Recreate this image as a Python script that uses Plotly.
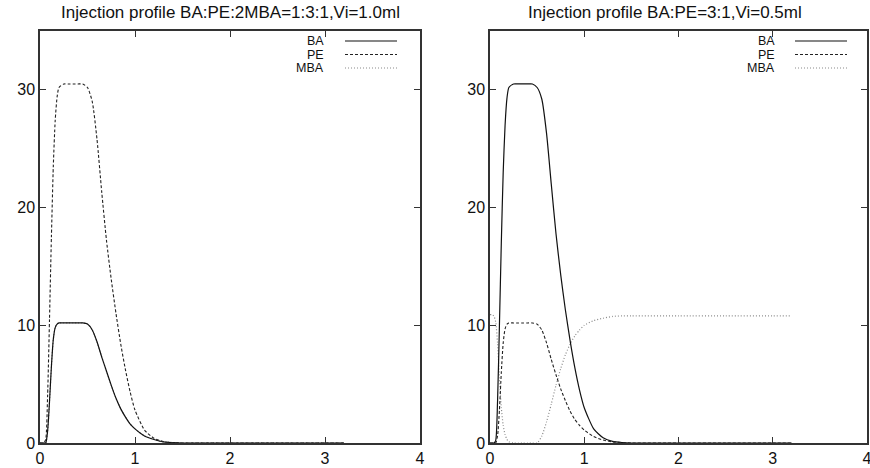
import plotly.graph_objects as go

# time grid (same for both panels)
x = [0, 0.02, 0.04, 0.06, 0.08, 0.1, 0.12, 0.14, 0.16, 0.18, 0.2, 0.25, 0.3, 0.35,
     0.4, 0.45, 0.5, 0.55, 0.6, 0.65, 0.7, 0.75, 0.8, 0.85, 0.9, 0.95, 1.0, 1.1,
     1.2, 1.3, 1.4, 1.5, 2.0, 2.5, 3.0, 3.2]

# left panel: BA:PE:2MBA = 1:3:1, Vi = 1.0 ml
left_ba = [0, 0, 0, 0, 1.0, 3.5, 6.5, 8.8, 9.8, 10.1, 10.2, 10.2, 10.2, 10.2,
           10.2, 10.2, 10.1, 9.6, 8.6, 7.3, 6.1, 4.9, 3.8, 2.9, 2.2, 1.6, 1.2, 0.6,
           0.3, 0.1, 0.03, 0, 0, 0, 0, 0]
left_pe = [0, 0, 0, 0.3, 4.0, 10.5, 17.5, 23.5, 27.4, 29.4, 30.2, 30.5, 30.5, 30.5,
           30.5, 30.5, 30.2, 29.0, 25.8, 21.3, 17.2, 13.9, 11.0, 8.4, 6.2, 4.3, 2.8, 1.1,
           0.4, 0.12, 0.03, 0, 0, 0, 0, 0]
left_mba = left_ba

# right panel: BA:PE = 3:1, Vi = 0.5 ml
right_ba = [0, 0, 0, 0.2, 3.5, 10.0, 17.0, 23.0, 27.0, 29.3, 30.2, 30.5, 30.5, 30.5,
            30.5, 30.5, 30.2, 29.2, 26.3, 22.0, 17.8, 14.3, 11.3, 8.7, 6.4, 4.5, 3.0, 1.2,
            0.45, 0.14, 0.04, 0, 0, 0, 0, 0]
right_pe = [0, 0, 0, 0, 0.6, 2.8, 6.0, 8.5, 9.7, 10.1, 10.2, 10.2, 10.2, 10.2,
            10.2, 10.2, 10.1, 9.6, 8.5, 7.1, 5.8, 4.6, 3.6, 2.7, 2.0, 1.5, 1.1, 0.55,
            0.25, 0.1, 0.03, 0, 0, 0, 0, 0]
right_mba = [10.9, 10.9, 10.8, 10.3, 8.5, 5.5, 3.0, 1.5, 0.7, 0.3, 0.1, 0, 0, 0,
             0, 0, 0, 0.6, 1.8, 3.3, 4.9, 6.3, 7.5, 8.4, 9.1, 9.6, 10.0, 10.4,
             10.6, 10.75, 10.8, 10.8, 10.8, 10.8, 10.8, 10.8]

names = ["BA", "PE", "MBA"]
styles = [dict(color="#111111", width=1.2, dash="solid"),
          dict(color="#222222", width=1.1, dash="3px,2px"),
          dict(color="#8a8a8a", width=1.2, dash="1px,2px")]

fig = go.Figure()
left = [left_ba, left_pe, left_mba]
right = [right_ba, right_pe, right_mba]
# draw MBA first so it sits below the others
for i in [2, 0, 1]:
    fig.add_trace(go.Scatter(x=x, y=left[i], mode="lines", name=names[i], line=styles[i],
                             line_shape="spline", line_smoothing=0.6,
                             xaxis="x", yaxis="y", showlegend=False))
    fig.add_trace(go.Scatter(x=x, y=right[i], mode="lines", name=names[i], line=styles[i],
                             line_shape="spline", line_smoothing=0.6,
                             xaxis="x2", yaxis="y2", showlegend=False))

W, H = 870, 468
font = "Liberation Sans, Arial, sans-serif"
ax = dict(showgrid=False, zeroline=False, showline=True, linecolor="#333333", linewidth=1.5,
          mirror="ticks", ticks="inside", ticklen=6, tickcolor="#333333", tickwidth=1,
          tickfont=dict(family=font, size=16, color="#111111"),
          ticklabeloverflow="allow", automargin=False)
ydom = [25 / H, 437 / H]

fig.update_layout(
    width=W, height=H,
    margin=dict(l=0, r=0, t=0, b=0),
    paper_bgcolor="white", plot_bgcolor="white",
    xaxis=dict(ax, domain=[40 / W, 420 / W], range=[0, 4], dtick=1, anchor="y"),
    yaxis=dict(ax, domain=ydom, range=[0, 35], dtick=10, anchor="x"),
    xaxis2=dict(ax, domain=[490 / W, 867 / W], range=[0, 4], dtick=1, anchor="y2"),
    yaxis2=dict(ax, domain=ydom, range=[0, 35], dtick=10, anchor="x2"),
)

titles = [("Injection profile BA:PE:2MBA=1:3:1,Vi=1.0ml", 230),
          ("Injection profile BA:PE=3:1,Vi=0.5ml", 665)]
for t, cx in titles:
    fig.add_annotation(text=t, x=cx / W, y=1 - 12 / H, xref="paper", yref="paper",
                       showarrow=False, xanchor="center", yanchor="middle",
                       font=dict(family=font, size=17, color="#111111"))

# gnuplot-style key: label right-aligned, sample line to its right
rows = [41, 54.5, 68]
for text_right, line_x0, line_x1 in [(325, 345, 397), (776, 795, 847)]:
    for i, ry in enumerate(rows):
        fig.add_annotation(text=names[i], x=text_right / W, y=1 - ry / H, xref="paper", yref="paper",
                           showarrow=False, xanchor="right", yanchor="middle", borderpad=0,
                           font=dict(family=font, size=12.5, color="#111111"))
        fig.add_shape(type="line", xref="paper", yref="paper",
                      x0=line_x0 / W, x1=line_x1 / W, y0=1 - ry / H, y1=1 - ry / H,
                      line=styles[i])

# drop the default page margin so the figure sits at the window's corner
fig.write_html("out.html", config={"displayModeBar": False},
               post_script="document.body.style.margin='0';")
